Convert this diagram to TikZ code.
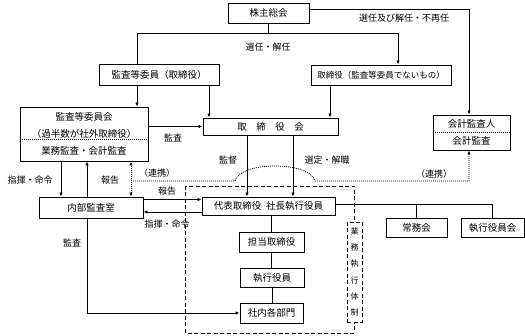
\documentclass[tikz,border=0pt]{standalone}
\usepackage{fontspec}
\setmainfont{Noto Sans CJK JP}
\usetikzlibrary{arrows.meta,calc}

\begin{document}
\begin{tikzpicture}[x=1pt,y=-1pt,
  box/.style={
    rectangle, draw, line width=0.9pt, inner sep=0pt,
    align=center, font=\fontsize{9.5}{11}\selectfont
  },
  arr/.style={-{Latex[length=4pt,width=3.4pt]}, line width=0.9pt},
  link/.style={line width=0.9pt},
  dotline/.style={line width=0.8pt, dash pattern=on 1pt off 1pt},
  dotarr/.style={dotline, {Latex[length=4pt,width=3.4pt]}-{Latex[length=4pt,width=3.4pt]}},
  sep/.style={line width=0.6pt, dash pattern=on 1pt off 1pt},
  dashbox/.style={line width=0.9pt, dash pattern=on 4pt off 2.5pt},
  lbl/.style={font=\fontsize{9}{11}\selectfont, inner sep=1pt}
]
\useasboundingbox (0,0) rectangle (525,336);

% business execution frame
\draw[dashbox] (185,186) rectangle (354,333);

\node[box, minimum width=81pt, minimum height=20pt] (kabu) at (268.5,13) {株主総会};
\node[box, minimum width=120pt, minimum height=21pt] (kansaiin) at (159,74.5) {監査等委員（取締役）};
\node[box, minimum width=140pt, minimum height=20pt, font=\fontsize{8.5}{10}\selectfont] (torishimari) at (381,75) {取締役（監査等委員でないもの）};
\node[box, minimum width=128pt, minimum height=54pt, font=\fontsize{9.5}{17}\selectfont] (kansaiinkai) at (84,134) {監査等委員会\\（過半数が社外取締役）\\業務監査・会計監査};
\node[box, minimum width=135pt, minimum height=17pt] (torikai) at (270.5,126.5) {取　締　役　会};
\node[box, minimum width=77pt, minimum height=35pt, font=\fontsize{9.5}{17}\selectfont] (kaikei) at (471.5,132.5) {会計監査人\\会計監査};
\node[box, minimum width=133pt, minimum height=18pt] (daihyo) at (268.5,206) {代表取締役\hspace{0.5em}社長執行役員};
\node[box, minimum width=104pt, minimum height=21pt] (naibu) at (91,207.5) {内部監査室};
\node[box, minimum width=65pt, minimum height=20pt] (tanto) at (271.5,242) {担当取締役};
\node[box, minimum width=64pt, minimum height=19pt] (shikko) at (272,277.5) {執行役員};
\node[box, minimum width=63pt, minimum height=20pt] (shanai) at (271.5,313) {社内各部門};
\node[box, minimum width=61pt, minimum height=19pt] (jomu) at (416.5,227.5) {常務会};
\node[box, minimum width=63pt, minimum height=19pt] (shikkokai) at (492.5,227.5) {執行役員会};
\node[box, dashbox, fill=white, minimum width=15pt, minimum height=100pt, font=\fontsize{8}{16.2}\selectfont] (taisei) at (354.5,272) {業\\務\\執\\行\\体\\制};

% dotted separators
\draw[sep] ([yshift=-5pt]kansaiinkai.west) -- ([yshift=-5pt]kansaiinkai.east);
\draw[sep] (kaikei.west) -- (kaikei.east);

% shareholders
\draw[link] (kabu.south) -- ++(0,10) coordinate (sel) -| ([xshift=-22pt]kansaiin.north);
\draw[arr] (sel) -| ([xshift=17pt]torishimari.north);
\draw[arr] ([yshift=4pt]kabu.east) -| ([xshift=-2.5pt]kaikei.north);
\node[lbl] (lsel) at (268,47) {選任・解任};
\node[lbl] (lsel2) at (404,18) {選任及び解任・不再任};

% board
\draw[arr] ([xshift=-22pt]kansaiin.south) -- ([xshift=-22pt]kansaiin.south |- kansaiinkai.north);
\draw[arr] ([xshift=50pt]kansaiin.south) -- ([xshift=50pt]kansaiin.south |- torikai.north);
\draw[arr] ([xshift=-51pt]torishimari.south) -- ([xshift=-51pt]torishimari.south |- torikai.north);
\draw[arr] (kansaiinkai.east |- torikai.west) -- (torikai.west);
\node[lbl] (lkansa1) at (173,138) {監査};
\draw[arr] ([xshift=-23.5pt]torikai.south) -- ([xshift=-23.5pt]torikai.south |- daihyo.north);
\draw[arr] ([xshift=22.5pt]torikai.south) -- ([xshift=22.5pt]torikai.south |- daihyo.north);
\node[lbl] (lkantoku) at (228,160) {監督};
\node[lbl] (lsentei) at (327,160) {選定・解職};

% internal audit
\draw[arr] ([xshift=-23pt]kansaiinkai.south) -- ([xshift=-23pt]kansaiinkai.south |- naibu.north);
\draw[arr] ([xshift=-4pt]naibu.north) -- ([xshift=-4pt]naibu.north |- kansaiinkai.south);
\draw[dotarr] ([xshift=40pt]naibu.north) -- ([xshift=40pt]naibu.north |- kansaiinkai.south);
\node[lbl] (lshiki1) at (30,180) {指揮・命令};
\node[lbl] (lhoku1) at (110,180) {報告};

% cooperation
\coordinate (renkei) at (131,181);
\coordinate (hopL) at (235,181);
\coordinate (hopR) at (315,181);
\coordinate (renkeiR) at (469,181);
\draw[dotline, -{Latex[length=4pt,width=3.4pt]}] (renkei) -- (hopL) .. controls (240,161) and (310,161) .. (hopR) -- (renkeiR) -- (renkeiR |- kaikei.south);
\node[lbl] (lrenkei1) at (157,173) {（連携）};
\node[lbl] (lrenkei2) at (434,174) {（連携）};

\draw[arr] ([yshift=8pt]naibu.east) -- ([yshift=8pt]naibu.east -| daihyo.west);
\draw[arr] ([yshift=-6pt]daihyo.west) -- ([yshift=-6pt]daihyo.west -| naibu.east);
\node[lbl] (lhoku2) at (167,191) {報告};
\node[lbl] (lshiki2) at (167,224) {指揮・命令};
\draw[arr] ([xshift=-4pt]naibu.south) |- (shanai.west);
\node[lbl] (lkansa2) at (72,243) {監査};

% execution line
\draw[link] (tanto.north |- daihyo.south) -- (tanto.north);
\draw[link] (tanto.south) -- (tanto.south |- shikko.north);
\draw[link] (shikko.south) -- (shikko.south |- shanai.north);
\coordinate (kaigi) at ([yshift=2pt]daihyo.east);
\draw[link] (kaigi) -| (shikkokai.north);
\draw[link] (jomu.north) -- (jomu.north |- kaigi);

\end{tikzpicture}
\end{document}
